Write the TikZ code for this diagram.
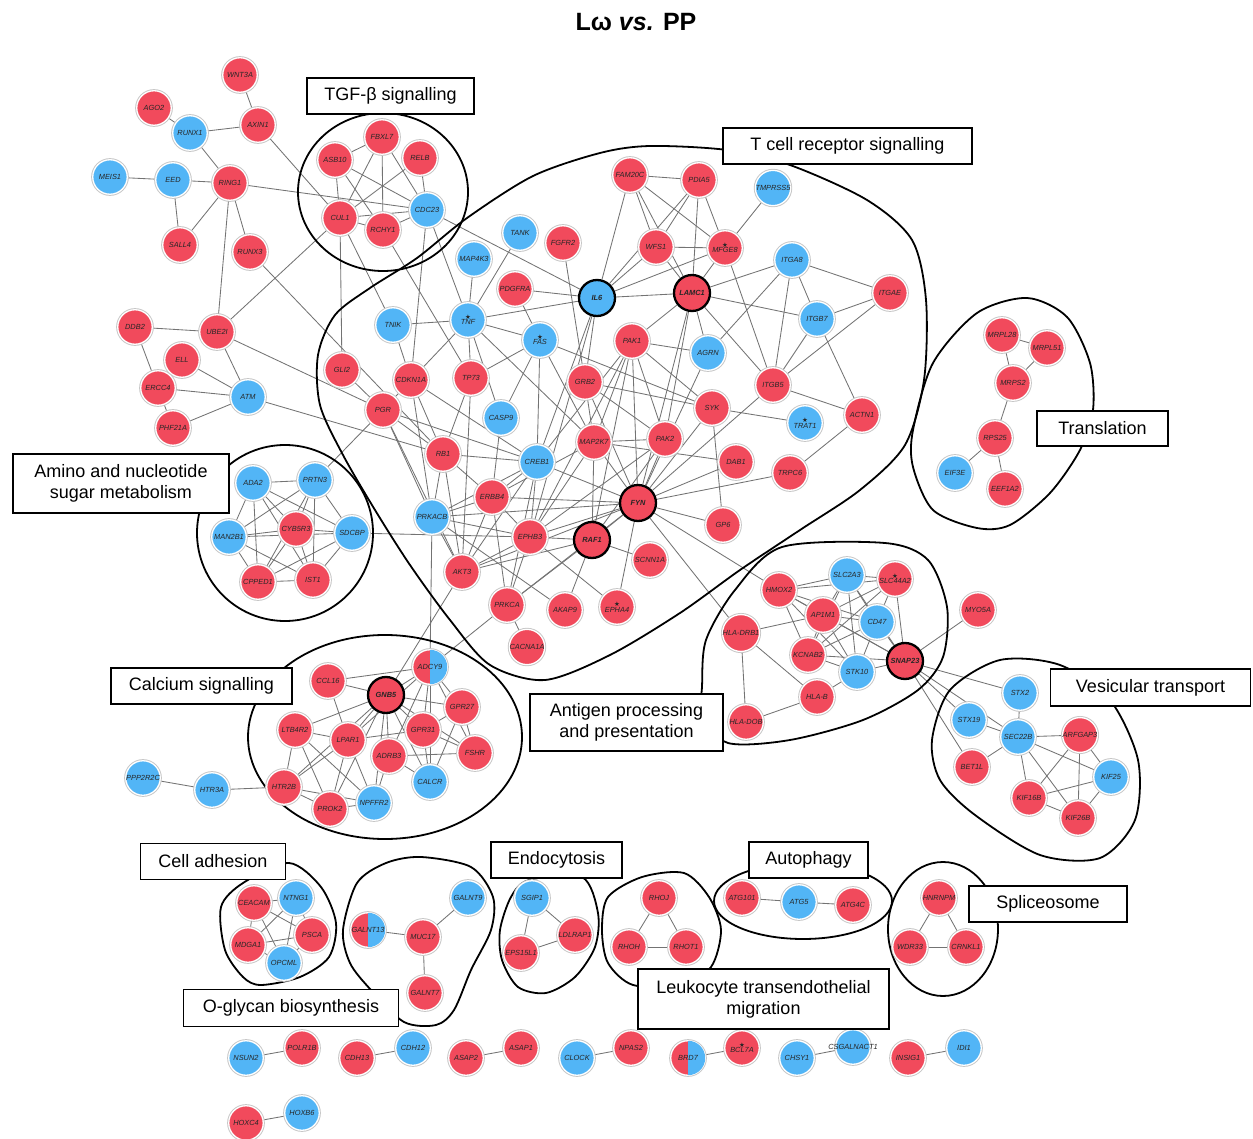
\documentclass[tikz,border=0pt]{standalone}
\usepackage{fontspec}
\setmainfont{Liberation Sans}
\newfontfamily\djv{DejaVu Sans}
\usetikzlibrary{backgrounds}
\definecolor{cred}{RGB}{241,74,92}
\definecolor{cblue}{RGB}{82,181,246}
\tikzset{
  gene/.style={circle, minimum size=34.5pt, inner sep=0pt, draw=white, line width=1.3pt,
    preaction={draw=black!22, line width=3.2pt},
    font=\fontsize{7.4}{7.8}\selectfont\itshape, text=black!85},
  rn/.style={gene, fill=cred},
  bn/.style={gene, fill=cblue},
  hubr/.style={circle, minimum size=36pt, inner sep=0pt, fill=cred, draw=black, line width=2.3pt,
    font=\fontsize{7.4}{7.8}\selectfont\itshape\bfseries, text=black!85},
  hubb/.style={hubr, fill=cblue},
  glab/.style={inner sep=0pt, font=\fontsize{7.4}{7.8}\selectfont\itshape, text=black!85},
  st/.style={align=center},
  lnk/.style={draw=black!55, line width=0.85pt},
  blob/.style={draw=black, line width=1.8pt},
  lbox/.style={draw=black, line width=1.3pt, fill=white, inner sep=0pt, align=center,
    font=\fontsize{18}{21}\selectfont}
}
\newcommand\sth{{\djv\upshape\fontsize{6.5}{6.5}\selectfont★}\\[-2.5pt]}
\newcommand\halfgene[4]{%
  \node[rn] (#1) at (#2,#3) {};
  \begin{scope}
    \clip (#2,#3-20) rectangle (#2+20,#3+20);
    \fill[cblue] (#1.center) circle (17.2pt);
  \end{scope}
  \node[glab] at (#1.center) {#4};}
\begin{document}
\begin{tikzpicture}[x=1pt,y=-1pt]
\useasboundingbox (0,0) rectangle (1253,1139);
\node[font=\fontsize{25}{28}\selectfont\bfseries] (title) at (636,22) {Lω \textit{vs.} PP};

% ---- top-left
\node[rn] (WNT3A) at (240,75) {WNT3A};
\node[rn] (AGO2) at (154,108) {AGO2};
\node[rn] (AXIN1) at (258,125) {AXIN1};
\node[bn] (RUNX1) at (190,133) {RUNX1};
\node[bn] (MEIS1) at (110,177) {MEIS1};
\node[bn] (EED) at (173,180) {EED};
\node[rn] (RING1) at (230,183) {RING1};
\node[rn] (SALL4) at (180,245) {SALL4};
\node[rn] (RUNX3) at (250,252) {RUNX3};
\node[rn] (DDB2) at (135,327) {DDB2};
\node[rn] (UBE2I) at (217,332) {UBE2I};
\node[rn] (ELL) at (182,360) {ELL};
\node[rn] (ERCC4) at (158,388) {ERCC4};
\node[bn] (ATM) at (248,397) {ATM};
\node[rn] (PHF21A) at (173,428) {PHF21A};
% ---- TGF
\node[rn] (FBXL7) at (382,137) {FBXL7};
\node[rn] (ASB10) at (335,160) {ASB10};
\node[rn] (RELB) at (420,158) {RELB};
\node[rn] (CUL1) at (340,218) {CUL1};
\node[rn] (RCHY1) at (383,230) {RCHY1};
\node[bn] (CDC23) at (427,210) {CDC23};
% ---- T cell
\node[rn] (FAM20C) at (630,175) {FAM20C};
\node[rn] (PDIA5) at (699,180) {PDIA5};
\node[bn] (TMPRSS5) at (773,188) {TMPRSS5};
\node[bn] (TANK) at (520,233) {TANK};
\node[rn] (FGFR2) at (563,243) {FGFR2};
\node[rn] (WFS1) at (656,247) {WFS1};
\node[rn,st] (MFGE8) at (725,248) {\sth MFGE8};
\node[bn] (MAP4K3) at (474,259) {MAP4K3};
\node[bn] (ITGA8) at (792,260) {ITGA8};
\node[hubb] (IL6) at (597,298) {IL6};
\node[hubr] (LAMC1) at (692,293) {LAMC1};
\node[rn] (PDGFRA) at (515,289) {PDGFRA};
\node[rn] (ITGAE) at (890,293) {ITGAE};
\node[bn] (TNIK) at (393,325) {TNIK};
\node[bn,st] (TNF) at (468,320) {\sth TNF};
\node[bn] (ITGB7) at (817,319) {ITGB7};
\node[bn,st] (FAS) at (540,340) {\sth FAS};
\node[rn] (PAK1) at (632,341) {PAK1};
\node[bn] (AGRN) at (708,353) {AGRN};
\node[rn] (GLI2) at (342,370) {GLI2};
\node[rn] (CDKN1A) at (411,380) {CDKN1A};
\node[rn] (TP73) at (471,378) {TP73};
\node[rn] (GRB2) at (585,382) {GRB2};
\node[rn] (ITGB5) at (773,385) {ITGB5};
\node[rn] (PGR) at (383,410) {PGR};
\node[bn] (CASP9) at (501,418) {CASP9};
\node[rn] (SYK) at (712,408) {SYK};
\node[bn,st] (TRAT1) at (805,423) {\sth TRAT1};
\node[rn] (ACTN1) at (862,415) {ACTN1};
\node[rn] (RB1) at (443,454) {RB1};
\node[bn] (CREB1) at (537,462) {CREB1};
\node[rn] (MAP2K7) at (594,442) {MAP2K7};
\node[rn] (PAK2) at (665,439) {PAK2};
\node[rn] (DAB1) at (736,462) {DAB1};
\node[rn] (TRPC6) at (790,473) {TRPC6};
\node[rn] (ERBB4) at (492,497) {ERBB4};
\node[hubr] (FYN) at (638,503) {FYN};
\node[bn] (PRKACB) at (432,517) {PRKACB};
\node[rn] (GP6) at (723,525) {GP6};
\node[rn] (EPHB3) at (530,537) {EPHB3};
\node[hubr] (RAF1) at (592,540) {RAF1};
\node[rn] (SCNN1A) at (650,560) {SCNN1A};
\node[rn] (AKT3) at (462,572) {AKT3};
\node[rn] (PRKCA) at (507,605) {PRKCA};
\node[rn] (AKAP9) at (565,610) {AKAP9};
\node[rn,st] (EPHA4) at (617,607) {\sth EPHA4};
\node[rn] (CACNA1A) at (527,647) {CACNA1A};
% ---- Translation
\node[rn] (MRPL28) at (1002,335) {MRPL28};
\node[rn] (MRPL51) at (1047,348) {MRPL51};
\node[rn] (MRPS2) at (1013,383) {MRPS2};
\node[rn] (RPS25) at (995,438) {RPS25};
\node[bn] (EIF3E) at (955,473) {EIF3E};
\node[rn] (EEF1A2) at (1005,489) {EEF1A2};
% ---- Amino
\node[bn] (ADA2) at (253,483) {ADA2};
\node[bn] (PRTN3) at (315,480) {PRTN3};
\node[bn] (MAN2B1) at (229,537) {MAN2B1};
\node[rn] (CYB5R3) at (296,529) {CYB5R3};
\node[bn] (SDCBP) at (352,533) {SDCBP};
\node[rn] (CPPED1) at (258,582) {CPPED1};
\node[rn] (IST1) at (313,580) {IST1};
% ---- Calcium
\halfgene{ADCY9}{430}{667}{ADCY9}
\node[rn] (CCL16) at (328,681) {CCL16};
\node[hubr] (GNB5) at (386,695) {GNB5};
\node[rn] (GPR27) at (462,707) {GPR27};
\node[rn] (LTB4R2) at (295,730) {LTB4R2};
\node[rn] (LPAR1) at (348,740) {LPAR1};
\node[rn] (GPR31) at (423,730) {GPR31};
\node[rn] (ADRB3) at (389,756) {ADRB3};
\node[rn] (FSHR) at (475,753) {FSHR};
\node[bn] (CALCR) at (430,782) {CALCR};
\node[rn] (HTR2B) at (284,787) {HTR2B};
\node[rn] (PROK2) at (330,809) {PROK2};
\node[bn] (NPFFR2) at (374,803) {NPFFR2};
\node[bn] (HTR3A) at (212,790) {HTR3A};
\node[bn] (PPP2R2C) at (143,778) {PPP2R2C};
% ---- Antigen
\node[bn] (SLC2A3) at (847,575) {SLC2A3};
\node[rn,st] (SLC44A2) at (895,579) {\sth SLC44A2};
\node[rn] (HMOX2) at (779,590) {HMOX2};
\node[rn] (AP1M1) at (823,615) {AP1M1};
\node[bn] (CD47) at (877,622) {CD47};
\node[rn] (MYO5A) at (978,610) {MYO5A};
\node[rn] (HLADRB1) at (741,633) {HLA-DRB1};
\node[rn] (KCNAB2) at (808,655) {KCNAB2};
\node[hubr] (SNAP23) at (905,661) {SNAP23};
\node[bn] (STK10) at (857,672) {STK10};
\node[rn] (HLAB) at (817,697) {HLA-B};
\node[rn] (HLADOB) at (746,722) {HLA-DOB};
% ---- Vesicular
\node[bn] (STX2) at (1020,693) {STX2};
\node[bn] (STX19) at (969,720) {STX19};
\node[bn] (SEC22B) at (1018,737) {SEC22B};
\node[rn] (ARFGAP3) at (1080,735) {ARFGAP3};
\node[rn] (BET1L) at (972,767) {BET1L};
\node[bn] (KIF25) at (1111,777) {KIF25};
\node[rn] (KIF16B) at (1029,798) {KIF16B};
\node[rn] (KIF26B) at (1078,818) {KIF26B};
% ---- bottom clusters
\node[rn] (CEACAM) at (254,903) {CEACAM};
\node[bn] (NTNG1) at (296,898) {NTNG1};
\node[rn] (MDGA1) at (248,945) {MDGA1};
\node[rn] (PSCA) at (312,935) {PSCA};
\node[bn] (OPCML) at (284,963) {OPCML};
\halfgene{GALNT13}{368}{930}{GALNT13}
\node[rn] (MUC17) at (423,937) {MUC17};
\node[bn] (GALNT9) at (468,898) {GALNT9};
\node[rn] (GALNT7) at (425,993) {GALNT7};
\node[bn] (SGIP1) at (532,898) {SGIP1};
\node[rn] (LDLRAP1) at (575,935) {LDLRAP1};
\node[rn] (EPS15L1) at (521,953) {EPS15L1};
\node[rn] (RHOJ) at (659,898) {RHOJ};
\node[rn] (RHOH) at (629,947) {RHOH};
\node[rn] (RHOT1) at (686,947) {RHOT1};
\node[rn] (ATG101) at (742,898) {ATG101};
\node[bn] (ATG5) at (799,902) {ATG5};
\node[rn] (ATG4C) at (853,905) {ATG4C};
\node[rn] (HNRNPM) at (939,898) {HNRNPM};
\node[rn] (WDR33) at (910,947) {WDR33};
\node[rn] (CRNKL1) at (966,947) {CRNKL1};
% ---- bottom rows
\node[bn] (NSUN2) at (246,1058) {NSUN2};
\node[rn] (POLR1B) at (302,1048) {POLR1B};
\node[rn] (CDH13) at (357,1058) {CDH13};
\node[bn] (CDH12) at (413,1048) {CDH12};
\node[rn] (ASAP2) at (466,1058) {ASAP2};
\node[rn] (ASAP1) at (521,1048) {ASAP1};
\node[bn] (CLOCK) at (577,1058) {CLOCK};
\node[rn] (NPAS2) at (631,1048) {NPAS2};
\halfgene{BRD7}{688}{1058}{BRD7}
\node[rn,st] (BCL7A) at (742,1048) {\sth BCL7A};
\node[bn] (CHSY1) at (797,1058) {CHSY1};
\node[bn] (CSGALNACT1) at (853,1047) {\makebox[0pt]{CSGALNACT1}};
\node[rn] (INSIG1) at (908,1058) {INSIG1};
\node[bn] (IDI1) at (964,1048) {IDI1};
\node[rn] (HOXC4) at (246,1123) {HOXC4};
\node[bn] (HOXB6) at (302,1113) {HOXB6};

\begin{pgfonlayer}{background}
\foreach \a/\b in {WNT3A/AXIN1, AGO2/RUNX1, RUNX1/AXIN1, RUNX1/RING1, MEIS1/EED, EED/RING1, EED/SALL4,
  RING1/SALL4, RING1/RUNX3, RING1/UBE2I, RING1/CDC23, AXIN1/CUL1, RUNX3/RB1, UBE2I/CUL1, DDB2/UBE2I,
  DDB2/ERCC4, ELL/ATM, ERCC4/ATM, PHF21A/ATM, ERCC4/PHF21A, UBE2I/ATM, UBE2I/PGR, ATM/RB1,
  ASB10/FBXL7, ASB10/CUL1, ASB10/RCHY1, ASB10/CDC23, FBXL7/CUL1, FBXL7/RCHY1, FBXL7/CDC23, RELB/CUL1,
  RELB/CDC23, CUL1/RCHY1, CUL1/CDC23, RCHY1/CDC23, CUL1/GLI2, CUL1/TNIK, RCHY1/TP73, CDC23/CDKN1A,
  CDC23/TNF, CDC23/IL6}
  \draw[lnk] (\a) -- (\b);
\foreach \a/\b in {FAM20C/PDIA5, FAM20C/WFS1, FAM20C/MFGE8, FAM20C/LAMC1, FAM20C/IL6, PDIA5/WFS1,
  PDIA5/MFGE8, PDIA5/LAMC1, PDIA5/IL6, TMPRSS5/MFGE8, WFS1/MFGE8, WFS1/LAMC1, WFS1/IL6, MFGE8/LAMC1,
  MFGE8/IL6, MFGE8/ITGB5, LAMC1/IL6, LAMC1/ITGA8, LAMC1/ITGB7, LAMC1/PAK1, LAMC1/AGRN, LAMC1/ITGB5,
  LAMC1/PAK2, LAMC1/FYN, ITGA8/ITGAE, ITGA8/ITGB7, ITGA8/ITGB5, ITGA8/AGRN, ITGAE/ITGB7, ITGAE/ITGB5,
  ITGB7/ITGB5, ITGB7/ACTN1, ITGB5/ACTN1, ITGB5/FYN, ACTN1/TRPC6, SYK/TRAT1, SYK/GP6, SYK/FYN, PAK1/SYK,
  GRB2/SYK, FAS/SYK, PAK1/AGRN, PAK1/MAP2K7, PAK1/PAK2, PAK1/FYN, PAK1/CREB1, PAK1/EPHB3, PAK1/RAF1,
  AGRN/FYN, IL6/PDGFRA, IL6/TNF, IL6/CREB1, IL6/GRB2, IL6/EPHB3, FGFR2/GRB2, TANK/TNF, MAP4K3/TNF,
  PDGFRA/FAS, TNF/TNIK, TNF/FAS, TNF/CDKN1A, TNF/TP73, TNF/CASP9, TNF/MAP2K7, FAS/TP73, FAS/CASP9,
  FAS/CREB1, FAS/MAP2K7, GRB2/MAP2K7, GRB2/FYN, GRB2/PAK2, CDKN1A/PGR, CDKN1A/RB1, CDKN1A/PRKACB,
  CDKN1A/CREB1, CDKN1A/TNIK, GLI2/PGR, PGR/RB1, PGR/PRKACB, PGR/CREB1, PGR/AKT3, TP73/RB1, TP73/AKT3,
  CASP9/ERBB4, RB1/CREB1, RB1/ERBB4, RB1/PRKACB, RB1/AKT3, CREB1/FYN, CREB1/ERBB4, CREB1/EPHB3,
  CREB1/PRKACB, CREB1/PRKCA, CREB1/AKT3, MAP2K7/PAK2, MAP2K7/FYN, MAP2K7/RAF1, MAP2K7/EPHB3,
  MAP2K7/ERBB4, MAP2K7/DAB1, PAK2/FYN, PAK2/RAF1, PAK2/EPHB3, DAB1/FYN, TRPC6/FYN, FYN/GP6, FYN/RAF1,
  FYN/EPHB3, FYN/ERBB4, FYN/PRKACB, FYN/EPHA4, FYN/HMOX2, FYN/HLADRB1, FYN/AKT3, FYN/PRKCA,
  RAF1/SCNN1A, RAF1/AKAP9, RAF1/EPHB3, RAF1/PRKCA, RAF1/AKT3, ERBB4/PRKACB, ERBB4/EPHB3, ERBB4/AKT3,
  ERBB4/PRKCA, EPHB3/PRKACB, EPHB3/AKT3, EPHB3/PRKCA, EPHB3/EPHA4, PRKACB/AKT3, PRKACB/AKAP9,
  PRKACB/ADCY9, SDCBP/EPHB3, PRKCA/CACNA1A, PRKCA/ADCY9, AKT3/GNB5, PRTN3/PGR}
  \draw[lnk] (\a) -- (\b);
\foreach \a/\b in {ADA2/PRTN3, ADA2/MAN2B1, ADA2/CYB5R3, ADA2/SDCBP, ADA2/CPPED1, ADA2/IST1,
  PRTN3/MAN2B1, PRTN3/CYB5R3, PRTN3/SDCBP, PRTN3/CPPED1, PRTN3/IST1, MAN2B1/CYB5R3, MAN2B1/SDCBP,
  MAN2B1/CPPED1, MAN2B1/IST1, CYB5R3/SDCBP, CYB5R3/CPPED1, CYB5R3/IST1, SDCBP/CPPED1, SDCBP/IST1,
  CPPED1/IST1,
  GNB5/CCL16, GNB5/ADCY9, GNB5/GPR27, GNB5/LTB4R2, GNB5/LPAR1, GNB5/GPR31, GNB5/ADRB3, GNB5/FSHR,
  GNB5/CALCR, GNB5/HTR2B, GNB5/PROK2, GNB5/NPFFR2, CCL16/ADCY9, CCL16/LPAR1, LTB4R2/LPAR1,
  LTB4R2/HTR2B, LTB4R2/PROK2, LTB4R2/NPFFR2, LPAR1/HTR2B, LPAR1/PROK2, LPAR1/NPFFR2, LPAR1/GPR31,
  ADCY9/GPR27, ADCY9/GPR31, ADCY9/ADRB3, ADCY9/CALCR, ADCY9/FSHR, ADCY9/LPAR1, GPR27/GPR31,
  GPR27/FSHR, GPR27/CALCR, GPR31/CALCR, GPR31/FSHR, ADRB3/FSHR, ADRB3/CALCR, ADRB3/NPFFR2,
  HTR2B/PROK2, HTR2B/NPFFR2, PROK2/NPFFR2, HTR2B/HTR3A, HTR3A/PPP2R2C}
  \draw[lnk] (\a) -- (\b);
\foreach \a/\b in {HMOX2/SLC2A3, HMOX2/SLC44A2, HMOX2/AP1M1, HMOX2/CD47, HMOX2/KCNAB2, HMOX2/STK10,
  HMOX2/SNAP23, SLC2A3/SLC44A2, SLC2A3/AP1M1, SLC2A3/CD47, SLC2A3/KCNAB2, SLC2A3/STK10, SLC2A3/SNAP23,
  SLC44A2/AP1M1, SLC44A2/CD47, SLC44A2/SNAP23, SLC44A2/KCNAB2, AP1M1/CD47, AP1M1/KCNAB2, AP1M1/STK10,
  AP1M1/SNAP23, AP1M1/HLADRB1, CD47/STK10, CD47/SNAP23, CD47/KCNAB2, KCNAB2/STK10, KCNAB2/SNAP23,
  STK10/SNAP23, HLADRB1/HLADOB, HLADRB1/HLAB, HLAB/HLADOB, HLAB/STK10,
  STX2/SEC22B, STX19/SEC22B, SEC22B/ARFGAP3, SEC22B/KIF25, SEC22B/KIF16B, SEC22B/KIF26B, SEC22B/BET1L,
  ARFGAP3/KIF25, ARFGAP3/KIF16B, ARFGAP3/KIF26B, KIF25/KIF16B, KIF25/KIF26B, KIF16B/KIF26B,
  SNAP23/STX2, SNAP23/STX19, SNAP23/SEC22B, SNAP23/BET1L, SNAP23/MYO5A,
  CEACAM/NTNG1, CEACAM/MDGA1, CEACAM/PSCA, CEACAM/OPCML, NTNG1/MDGA1, NTNG1/PSCA, NTNG1/OPCML,
  MDGA1/PSCA, MDGA1/OPCML, PSCA/OPCML, GALNT13/MUC17, MUC17/GALNT9, MUC17/GALNT7, SGIP1/LDLRAP1,
  SGIP1/EPS15L1, EPS15L1/LDLRAP1, RHOJ/RHOH, RHOJ/RHOT1, RHOH/RHOT1, ATG101/ATG5, ATG5/ATG4C,
  HNRNPM/WDR33, HNRNPM/CRNKL1, WDR33/CRNKL1, MRPL28/MRPL51, MRPL28/MRPS2, MRPL51/MRPS2, MRPS2/RPS25,
  RPS25/EIF3E, RPS25/EEF1A2,
  NSUN2/POLR1B, CDH13/CDH12, ASAP2/ASAP1, CLOCK/NPAS2, BRD7/BCL7A, CHSY1/CSGALNACT1, INSIG1/IDI1,
  HOXC4/HOXB6}
  \draw[lnk] (\a) -- (\b);

% ---- group outlines
\draw[blob] (383,192) ellipse [x radius=85pt, y radius=79pt];
\draw[blob] plot[smooth cycle] coordinates {(417,258) (467,218) (533,176) (600,153) (650,146) (727,150)
  (790,165) (867,200) (912,240) (926,300) (924,380) (905,445) (860,490) (800,530) (740,570) (680,613)
  (610,655) (545,680) (490,665) (450,620) (410,565) (375,510) (343,455) (320,405) (318,355) (335,315)
  (370,288)};
\draw[blob] plot[smooth cycle] coordinates {(1027,298) (1067,317) (1090,363) (1093,410) (1080,450)
  (1050,493) (1010,525) (977,528) (933,510) (913,467) (913,430) (933,363) (977,313)};
\draw[blob] (285,533) circle (88pt);
\draw[blob] (385,737) ellipse [x radius=137pt, y radius=102pt];
\draw[blob] plot[smooth cycle] coordinates {(782,547) (885,543) (928,560) (947,607) (943,657) (918,690)
  (863,720) (790,740) (728,743) (702,715) (702,687) (706,640) (735,590)};
\draw[blob] plot[smooth cycle] coordinates {(932,740) (950,690) (1000,660) (1060,665) (1110,700)
  (1138,760) (1135,820) (1100,858) (1040,855) (975,815) (940,780)};
\draw[blob] plot[smooth cycle] coordinates {(221,907) (243,883) (289,863) (321,887) (336,923) (329,957)
  (300,977) (261,985) (243,977) (225,950)};
\draw[blob] plot[smooth cycle] coordinates {(343,930) (357,883) (386,863) (421,857) (471,867) (493,897)
  (491,930) (471,970) (454,1010) (436,1025) (404,1022) (371,990) (350,963)};
\draw[blob] plot[smooth cycle] coordinates {(500,930) (511,897) (529,880) (582,877) (598,913) (595,947)
  (575,977) (546,993) (518,987) (502,960)};
\draw[blob] plot[smooth cycle] coordinates {(602,930) (608,897) (642,877) (684,873) (709,897) (721,930)
  (711,967) (680,985) (633,985) (608,963)};
\draw[blob] (803,901) ellipse [x radius=89pt, y radius=38pt];
\draw[blob] (943,929) ellipse [x radius=55pt, y radius=67pt];
\end{pgfonlayer}

% ---- labels
\node[lbox, minimum width=167pt, minimum height=36pt] (tgf) at (390.5,96) {TGF-β signalling};
\node[lbox, minimum width=249pt, minimum height=36pt] (tcr) at (847.5,146) {T cell receptor signalling};
\node[lbox, minimum width=131pt, minimum height=35pt] (trl) at (1102.5,428.5) {Translation};
\node[lbox, minimum width=216pt, minimum height=59pt] (amino) at (121,483.5) {Amino and nucleotide\\sugar metabolism};
\node[lbox, minimum width=181pt, minimum height=36pt] (calc) at (201.5,686) {Calcium signalling};
\node[lbox, minimum width=193pt, minimum height=57pt] (antg) at (626.5,722.5) {Antigen processing\\and presentation};
\node[lbox, minimum width=200pt, minimum height=37pt] (vest) at (1150.5,687.5) {Vesicular transport};
\node[lbox, minimum width=145pt, minimum height=36pt] (cadh) at (213,861.5) {Cell adhesion};
\node[lbox, minimum width=215pt, minimum height=37pt] (oglyc) at (291,1008) {O-glycan biosynthesis};
\node[lbox, minimum width=131pt, minimum height=36pt] (endo) at (556.5,860) {Endocytosis};
\node[lbox, minimum width=119pt, minimum height=36pt] (auto) at (808.5,860) {Autophagy};
\node[lbox, minimum width=158pt, minimum height=36pt] (splc) at (1048,904) {Spliceosome};
\node[lbox, minimum width=251pt, minimum height=60pt] (leuk) at (763.5,999) {Leukocyte transendothelial\\migration};
\end{tikzpicture}
\end{document}
